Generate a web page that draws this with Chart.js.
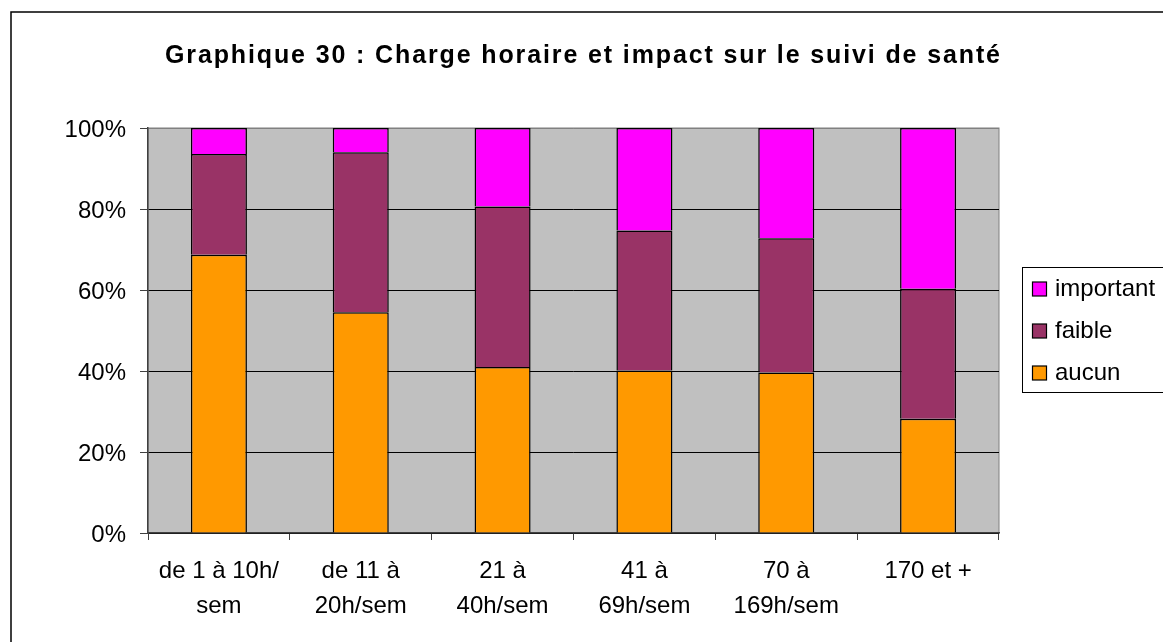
<!DOCTYPE html>
<html>
<head>
<meta charset="utf-8">
<script src="https://cdn.jsdelivr.net/npm/chart.js@4.4.1/dist/chart.umd.min.js"></script>
<style>
  html, body { margin: 0; padding: 0; background: #fff; }
</style>
</head>
<body>
<canvas id="chart" width="1163" height="642" style="display:block;width:1163px;height:642px"></canvas>
<script>
const title = "Graphique 30 : Charge horaire et impact sur le suivi de santé";
const categories = [
  ["de 1 à 10h/", "sem"],
  ["de 11 à", "20h/sem"],
  ["21 à", "40h/sem"],
  ["41 à", "69h/sem"],
  ["70 à", "169h/sem"],
  ["170 et +"]
];
const aucun = [68.7, 54.5, 41.0, 40.1, 39.6, 28.2];
const faible = [24.9, 39.5, 39.6, 34.6, 33.2, 32.1];
const important = [6.4, 6.0, 19.4, 25.3, 27.2, 39.7];
const yTicks = [0, 20, 40, 60, 80, 100];

const FONT = "'Liberation Sans', Arial, sans-serif";

const frame = {
  id: "frame",
  beforeDraw(chart) {
    const ctx = chart.ctx;
    const a = chart.chartArea;
    ctx.save();
    // outer border of the chart object, runs off the right and bottom edges
    ctx.strokeStyle = "#000";
    ctx.lineWidth = 1.5;
    ctx.strokeRect(11, 12, chart.width + 20, chart.height + 20);
    // plot area
    ctx.fillStyle = "#c0c0c0";
    ctx.fillRect(a.left, a.top, a.right - a.left, a.bottom - a.top);
    ctx.strokeStyle = "#808080";
    ctx.lineWidth = 1;
    ctx.strokeRect(a.left, a.top, a.right - a.left, a.bottom - a.top);
    // title, spread out like the Excel rendering
    ctx.fillStyle = "#000";
    ctx.font = "bold 25px " + FONT;
    ctx.textAlign = "left";
    ctx.textBaseline = "middle";
    const w = ctx.measureText(title).width;
    const gap = Math.max(0, (835 - w) / (title.length - 1));
    ctx.letterSpacing = gap + "px";
    ctx.fillText(title, 165, 56);
    ctx.restore();
  },
  afterDraw(chart) {
    // legend, top item = last dataset
    const ctx = chart.ctx;
    ctx.save();
    ctx.strokeStyle = "#000";
    ctx.lineWidth = 1;
    ctx.strokeRect(1022.5, 267.5, 160, 125);
    const sets = chart.data.datasets.slice().reverse();
    sets.forEach((ds, i) => {
      const cy = 289 + i * 42;
      ctx.fillStyle = ds.backgroundColor;
      ctx.fillRect(1032.5, cy - 7, 14, 14);
      ctx.lineWidth = 1.2;
      ctx.strokeRect(1032.5, cy - 7, 14, 14);
      ctx.fillStyle = "#000";
      ctx.font = "24px " + FONT;
      ctx.textAlign = "left";
      ctx.textBaseline = "middle";
      ctx.fillText(ds.label, 1055, cy);
    });
    ctx.restore();
  }
};

new Chart(document.getElementById("chart"), {
  type: "bar",
  data: {
    labels: categories,
    datasets: [
      { label: "aucun", data: aucun, backgroundColor: "#ff9900" },
      { label: "faible", data: faible, backgroundColor: "#993366" },
      { label: "important", data: important, backgroundColor: "#ff00ff" }
    ].map((d) => Object.assign(d, {
      borderColor: "#000",
      borderWidth: 1.5,
      barPercentage: 0.395,
      categoryPercentage: 1
    }))
  },
  options: {
    responsive: false,
    animation: false,
    layout: { padding: { left: 48, right: 164, top: 128, bottom: 19 } },
    plugins: {
      legend: { display: false },
      title: { display: false },
      tooltip: { enabled: false }
    },
    scales: {
      x: {
        stacked: true,
        afterFit: (s) => { s.height = 90; },
        border: { color: "#404040", width: 1.5 },
        grid: {
          offset: true,
          drawOnChartArea: false,
          tickLength: 7,
          color: "#404040"
        },
        ticks: {
          color: "#000",
          padding: 14,
          maxRotation: 0,
          autoSkip: false,
          font: { family: FONT, size: 24, lineHeight: 1.458 }
        }
      },
      y: {
        stacked: true,
        min: 0,
        max: 100,
        afterFit: (s) => { s.width = 100; },
        afterBuildTicks: (s) => { s.ticks = yTicks.map((v) => ({ value: v })); },
        border: { color: "#404040", width: 1.5 },
        grid: {
          tickLength: 8,
          color: (c) => (c.tick && c.tick.value === 100 ? "#808080" : "#000"),
          tickColor: "#404040"
        },
        ticks: {
          color: "#000",
          padding: 14,
          labelOffset: 2,
          callback: (v) => v + "%",
          font: { family: FONT, size: 24 }
        }
      }
    }
  },
  plugins: [frame]
});
</script>
</body>
</html>
